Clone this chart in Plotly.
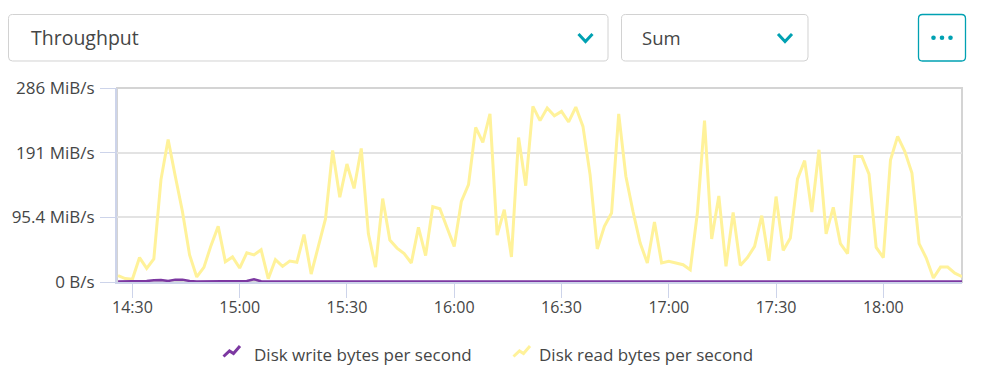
import plotly.graph_objects as go
import pandas as pd

# ---------------- data ----------------
times = pd.date_range("2024-01-01 14:26", periods=119, freq="2min")

read_mib = [
    9.3, 5, 4, 36, 20, 34, 151, 210, 156, 104,
    40, 7.4, 21.6, 54, 82, 30, 37, 20.6, 43, 40,
    47.6, 4.9, 33, 23, 31, 29, 70, 11.8, 52.5, 93,
    194, 125, 174, 138, 197, 71, 22, 123, 62, 50,
    42, 28, 80.5, 39, 111, 108, 80, 52.5, 119, 143.5,
    228, 206, 248, 69, 106.6, 37, 213, 142, 259, 238,
    256.6, 245, 251.6, 236, 258, 229.5, 158, 48.7, 82, 101.7,
    248, 156, 104, 57.5, 28, 88.5, 28, 30.4, 28, 25.5,
    18, 101.7, 238, 63.4, 127, 23, 102.7, 24.5, 36, 52.5,
    97.8, 31.4, 126, 46.6, 65, 152, 179, 103, 195, 71,
    110, 56.5, 41.7, 185, 185, 159, 51, 36, 180, 214.7,
    192.6, 160.7, 56.5, 35.4, 5.9, 22, 22, 13, 8,
]

write_mib = [
    0.8, 0.8, 0.8, 0.8, 1.5, 2.5, 3.0, 1.5, 3.5, 3.5,
    1.5, 0.8, 0.8, 0.8, 0.8, 0.8, 0.8, 0.8, 1.5, 4.0,
    1.0, 0.8, 0.8, 0.8, 0.8, 0.8, 0.8, 0.8, 0.8, 0.8,
    0.8, 0.8, 0.8, 1.0, 0.8, 0.8, 0.8, 0.8, 0.8, 0.8,
    0.8, 0.8, 0.8, 1.2, 0.8, 0.8, 0.8, 0.8, 0.8, 0.8,
    0.8, 0.8, 0.8, 0.8, 0.8, 0.8, 0.8, 0.8, 1.2, 1.5,
    0.8, 0.8, 0.8, 0.8, 0.8, 0.8, 0.8, 0.8, 0.8, 0.8,
    0.8, 0.8, 0.8, 0.8, 0.8, 0.8, 0.8, 0.8, 0.8, 1.2,
    1.5, 0.8, 0.8, 0.8, 0.8, 0.8, 0.8, 0.8, 0.8, 0.8,
    0.8, 0.8, 0.8, 0.8, 1.2, 0.8, 0.8, 1.5, 0.8, 0.8,
    0.8, 0.8, 1.2, 1.5, 0.8, 0.8, 0.8, 0.8, 0.8, 0.8,
    0.8, 0.8, 0.8, 0.8, 0.8, 0.8, 0.8, 0.8, 0.8,
]

y_tickvals = [0, 95.367, 190.735, 286.102]
y_ticktext = ["0 B/s", "95.4 MiB/s", "191 MiB/s", "286 MiB/s"]

series_names = ["Disk write bytes per second", "Disk read bytes per second"]
metric_label = "Throughput"
agg_label = "Sum"

# ---------------- layout constants ----------------
FW, FH = 984, 382
L, R, T, B = 117, 22, 88, 100
PW = FW - L - R
PH = FH - T - B

FONT = "Open Sans"
TXT = "#454646"
TEAL = "#00a1b2"
YELLOW = "#fff29a"
PURPLE = "#7c38a1"
AXIS_BLUE = "#cdd4ea"


def px(x):
    return (x - L) / PW


def py(y):
    return (FH - B - y) / PH


def pth(points, close=False):
    s = "M " + " L ".join(f"{px(x):.5f},{py(y):.5f}" for x, y in points)
    return s + (" Z" if close else "")


def rrect(x0, y0, x1, y1, r):
    P = lambda x, y: f"{px(x):.5f},{py(y):.5f}"
    return (f"M {P(x0 + r, y0)} L {P(x1 - r, y0)} Q {P(x1, y0)} {P(x1, y0 + r)} "
            f"L {P(x1, y1 - r)} Q {P(x1, y1)} {P(x1 - r, y1)} L {P(x0 + r, y1)} "
            f"Q {P(x0, y1)} {P(x0, y1 - r)} L {P(x0, y0 + r)} Q {P(x0, y0)} {P(x0 + r, y0)} Z")


fig = go.Figure()
fig.add_trace(go.Scatter(x=times, y=read_mib, mode="lines", name=series_names[1],
                         line=dict(color=YELLOW, width=3), hoverinfo="skip"))
fig.add_trace(go.Scatter(x=times, y=write_mib, mode="lines", name=series_names[0],
                         line=dict(color=PURPLE, width=2.5), hoverinfo="skip"))

shapes = []
# plot frame (gray)
shapes.append(dict(type="rect", xref="paper", yref="paper", x0=0, x1=1, y0=0, y1=1,
                   line=dict(color="#d4d4d4", width=2), layer="below"))
# dropdown boxes
shapes.append(dict(type="path", xref="paper", yref="paper", path=rrect(8.5, 14.5, 608, 61, 4),
                   line=dict(color="#d2d2d2", width=1), fillcolor="white"))
shapes.append(dict(type="path", xref="paper", yref="paper", path=rrect(621.5, 14.5, 808, 61, 4),
                   line=dict(color="#d2d2d2", width=1), fillcolor="white"))
shapes.append(dict(type="path", xref="paper", yref="paper", path=rrect(918.5, 14.5, 965.5, 61, 4),
                   line=dict(color=TEAL, width=1.3), fillcolor="white"))
# chevrons
for cx in (585.5, 785):
    shapes.append(dict(type="path", xref="paper", yref="paper",
                       path=pth([(cx - 7, 34), (cx, 41.5), (cx + 7, 34)]),
                       line=dict(color=TEAL, width=3)))
# dots
for dx in (933.5, 942, 950.5):
    shapes.append(dict(type="circle", xref="paper", yref="paper",
                       x0=px(dx - 2.3), x1=px(dx + 2.3), y0=py(37.7 + 2.3), y1=py(37.7 - 2.3),
                       line=dict(width=0), fillcolor=TEAL))
# legend zigzag icons
shapes.append(dict(type="path", xref="paper", yref="paper",
                   path=pth([(223.5, 356.5), (229.5, 351), (233.5, 353.5), (240, 346)]),
                   line=dict(color=PURPLE, width=3)))
shapes.append(dict(type="path", xref="paper", yref="paper",
                   path=pth([(513.5, 356.5), (519.5, 351), (523.5, 353.5), (530, 346)]),
                   line=dict(color=YELLOW, width=3)))

annotations = [
    dict(text=metric_label, x=px(28.5), y=py(37), xref="paper", yref="paper", xanchor="left",
         yanchor="middle", showarrow=False, font=dict(family=FONT, size=19.5, color=TXT)),
    dict(text=agg_label, x=px(639.5), y=py(37), xref="paper", yref="paper", xanchor="left",
         yanchor="middle", showarrow=False, font=dict(family=FONT, size=18.5, color=TXT)),
    dict(text=series_names[0], x=px(251.5), y=py(354), xref="paper", yref="paper", xanchor="left",
         yanchor="middle", showarrow=False, font=dict(family=FONT, size=17, color=TXT)),
    dict(text=series_names[1], x=px(536.5), y=py(354), xref="paper", yref="paper", xanchor="left",
         yanchor="middle", showarrow=False, font=dict(family=FONT, size=17, color=TXT)),
]

fig.update_layout(
    width=FW, height=FH,
    margin=dict(l=L, r=R, t=T, b=B, pad=0),
    paper_bgcolor="white", plot_bgcolor="white",
    showlegend=False,
    shapes=shapes, annotations=annotations,
    font=dict(family=FONT, size=15, color=TXT),
    xaxis=dict(
        range=[times[0] - pd.Timedelta(seconds=18), times[-1]],
        tickformat="%H:%M", dtick=30 * 60 * 1000,
        tick0="2024-01-01 14:30",
        showgrid=False, zeroline=False,
        showline=True, linecolor=AXIS_BLUE, linewidth=2,
        ticks="outside", ticklen=14, tickcolor=AXIS_BLUE, tickwidth=1,
        ticklabelstandoff=-4,
        tickfont=dict(family=FONT, size=16, color=TXT),
    ),
    yaxis=dict(
        range=[0, 286.102],
        tickvals=y_tickvals, ticktext=y_ticktext,
        showgrid=True, gridcolor="#e3e3e3", gridwidth=1.5,
        zeroline=False,
        showline=True, linecolor=AXIS_BLUE, linewidth=2,
        ticks="outside", ticklen=15, tickcolor=AXIS_BLUE, tickwidth=1,
        ticklabelstandoff=2,
        tickfont=dict(family=FONT, size=17, color=TXT),
    ),
)

fig.write_html("out.html")
